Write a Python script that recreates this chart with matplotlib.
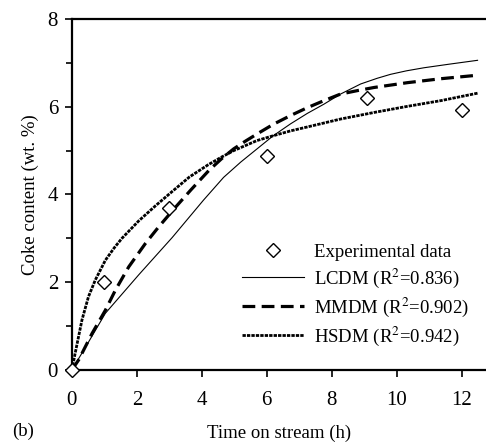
import matplotlib.pyplot as plt
from matplotlib.ticker import MultipleLocator

plt.rcParams['font.family'] = ['Liberation Serif', 'DejaVu Serif']
plt.rcParams['mathtext.fontset'] = 'stix'

# experimental points
t_exp = [0, 1, 3, 6, 9.1, 12]
coke_exp = [0, 2.0, 3.7, 4.87, 6.2, 5.93]

# model curves
t_lcdm = [0, 0.5, 1.03, 2.06, 3.09, 4.05, 4.67, 5.2, 5.7, 6.2, 6.73, 7.25, 7.76, 8.27,
          8.89, 9.4, 9.81, 10.3, 10.84, 11.6, 12.49]
c_lcdm = [0, 0.62, 1.29, 2.17, 3.02, 3.87, 4.39, 4.74, 5.04, 5.34, 5.61, 5.85, 6.06, 6.29,
          6.52, 6.65, 6.74, 6.82, 6.89, 6.97, 7.06]

t_mmdm = [0, 0.21, 0.62, 1.03, 1.34, 1.75, 2.26, 2.67, 3.19, 3.67, 4.22, 4.6, 4.98, 5.35,
          5.7, 6.2, 6.73, 7.25, 7.76, 8.27, 8.8, 9.3, 10.33, 11.36, 12.49]
c_mmdm = [0, 0.23, 0.83, 1.36, 1.82, 2.35, 2.88, 3.26, 3.71, 4.11, 4.55, 4.81, 5.04, 5.22,
          5.38, 5.6, 5.8, 5.98, 6.14, 6.29, 6.37, 6.44, 6.55, 6.64, 6.72]

t_hsdm = [0, 0.1, 0.31, 0.51, 0.72, 1.03, 1.3, 1.54, 2.06, 2.57, 3.09, 3.62, 4.2, 4.6, 4.98,
          5.7, 6.2, 6.73, 7.25, 7.76, 8.27, 9.3, 10.33, 11.36, 12.49]
c_hsdm = [0, 0.38, 1.14, 1.67, 2.05, 2.5, 2.78, 3.0, 3.4, 3.74, 4.07, 4.4, 4.68, 4.85, 5.0,
          5.23, 5.34, 5.45, 5.54, 5.63, 5.72, 5.87, 6.01, 6.14, 6.31]

fig = plt.figure(figsize=(4.86, 4.44), dpi=100)
ax = fig.add_axes([0.148, 0.167, 0.852, 0.79])

ax.plot(t_exp, coke_exp, linestyle='none', marker='D', ms=7, mfc='white',
        mec='black', mew=1, color='black', label='Experimental data', clip_on=False, zorder=5)
ax.plot(t_lcdm, c_lcdm, color='black', lw=0.8, label=r'LCDM (R$^2$=0.836)')
ax.plot(t_mmdm, c_mmdm, color='black', lw=2.3, dashes=(4, 2), label=r'MMDM (R$^2$=0.902)')
ax.plot(t_hsdm, c_hsdm, color='black', lw=2.0, dashes=(1.2, 0.4), label=r'HSDM (R$^2$=0.942)')

ax.set_xlim(0, 12.75)
ax.set_ylim(0, 8)
ax.xaxis.set_major_locator(MultipleLocator(2))
ax.yaxis.set_major_locator(MultipleLocator(2))
ax.yaxis.set_minor_locator(MultipleLocator(1))
ax.tick_params(axis='both', labelsize=15, width=1.2, length=5, direction='out')
ax.tick_params(axis='x', pad=10)
ax.tick_params(axis='y', pad=5)
ax.tick_params(axis='y', which='minor', width=1.2, length=4, direction='out')
ax.spines['right'].set_visible(False)
for s in ['left', 'top', 'bottom']:
    ax.spines[s].set_linewidth(1.6)

ax.set_ylabel('Coke content (wt. %)', fontsize=13.5, labelpad=6)
ax.set_xlabel('Time on stream (h)', fontsize=13.5, labelpad=11)
fig.text(0.025, 0.018, '(b)', fontsize=13.5)

ax.legend(loc='lower right', bbox_to_anchor=(1.0, 0.015), frameon=False, fontsize=13.5,
          handlelength=3.3, labelspacing=0.3, handletextpad=0.55)

fig.savefig('out.png', dpi=100)
